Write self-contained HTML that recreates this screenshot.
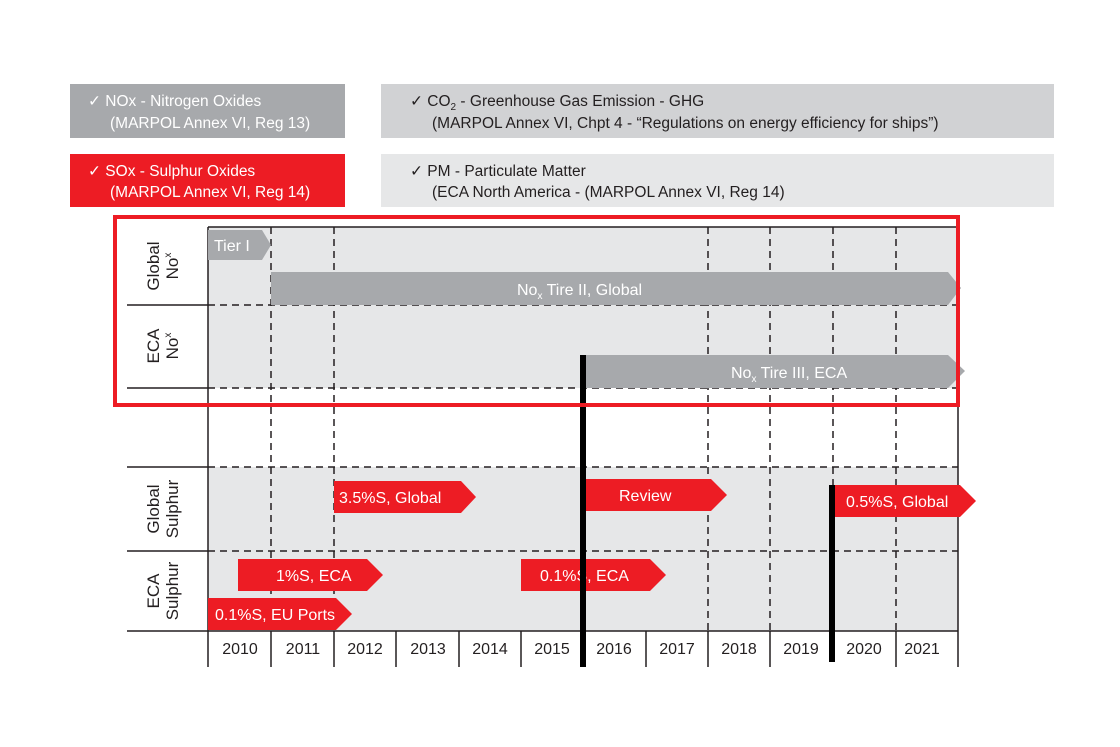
<!DOCTYPE html>
<html><head><meta charset="utf-8"><style>
html,body{margin:0;padding:0;background:#fff;}
svg{display:block;font-family:"Liberation Sans",sans-serif;}
</style></head><body>
<svg width="1120" height="747" viewBox="0 0 1120 747" xmlns="http://www.w3.org/2000/svg">
<rect width="1120" height="747" fill="#fff"/>
<rect x="70" y="84" width="275" height="54" fill="#a7a9ac"/>
<rect x="70" y="154" width="275" height="53" fill="#ed1c24"/>
<rect x="381" y="84" width="673" height="54" fill="#d1d2d4"/>
<rect x="381" y="154" width="673" height="53" fill="#e6e7e8"/>
<g font-size="15.5" fill="#fff">
<text x="88" y="106">✓ NOx - Nitrogen Oxides</text>
<text x="110" y="128">(MARPOL Annex VI, Reg 13)</text>
<text x="88" y="176">✓ SOx - Sulphur Oxides</text>
<text x="110" y="197">(MARPOL Annex VI, Reg 14)</text>
</g>
<g font-size="15.5" fill="#231f20">
<text x="410" y="106">✓ CO<tspan font-size="10" dy="4">2</tspan><tspan dy="-4"> - Greenhouse Gas Emission - GHG</tspan></text>
<text x="432" y="128">(MARPOL Annex VI, Chpt 4 - “Regulations on energy efficiency for ships”)</text>
<text x="410" y="176">✓ PM - Particulate Matter</text>
<text x="432" y="197">(ECA North America - (MARPOL Annex VI, Reg 14)</text>
</g>
<rect x="208" y="227" width="750" height="161" fill="#e6e7e8"/>
<rect x="208" y="467" width="750" height="164" fill="#e6e7e8"/>
<g stroke="#231f20" stroke-width="1.5" fill="none">
<line x1="208" y1="227" x2="958" y2="227"/>
<line x1="208" y1="227" x2="208" y2="667"/>
<line x1="958" y1="227" x2="958" y2="667"/>
<line x1="127" y1="631" x2="958" y2="631"/>
<line x1="127" y1="305" x2="208" y2="305"/>
<line x1="127" y1="388" x2="208" y2="388"/>
<line x1="127" y1="467" x2="208" y2="467"/>
<line x1="127" y1="551" x2="208" y2="551"/>
</g>
<g stroke="#231f20" stroke-width="1.5" stroke-dasharray="7,5" fill="none">
<line x1="208" y1="305" x2="958" y2="305"/>
<line x1="208" y1="388" x2="958" y2="388"/>
<line x1="208" y1="467" x2="958" y2="467"/>
<line x1="208" y1="551" x2="958" y2="551"/>
<line x1="271" y1="227" x2="271" y2="631"/>
<line x1="334" y1="227" x2="334" y2="631"/>
<line x1="708" y1="227" x2="708" y2="631"/>
<line x1="770" y1="227" x2="770" y2="631"/>
<line x1="833" y1="227" x2="833" y2="485"/>
<line x1="896" y1="227" x2="896" y2="631"/>
</g>
<g stroke="#231f20" stroke-width="1.5">
<line x1="271" y1="631" x2="271" y2="667"/><line x1="334" y1="631" x2="334" y2="667"/>
<line x1="396" y1="631" x2="396" y2="667"/><line x1="459" y1="631" x2="459" y2="667"/>
<line x1="521" y1="631" x2="521" y2="667"/><line x1="646" y1="631" x2="646" y2="667"/>
<line x1="708" y1="631" x2="708" y2="667"/><line x1="770" y1="631" x2="770" y2="667"/>
<line x1="896" y1="631" x2="896" y2="667"/>
</g>
<g font-size="16" fill="#231f20" text-anchor="middle">
<text x="240" y="654">2010</text><text x="303" y="654">2011</text><text x="365" y="654">2012</text>
<text x="428" y="654">2013</text><text x="490" y="654">2014</text><text x="552" y="654">2015</text>
<text x="614" y="654">2016</text><text x="677" y="654">2017</text><text x="739" y="654">2018</text>
<text x="801" y="654">2019</text><text x="864" y="654">2020</text><text x="922" y="654">2021</text>
</g>
<g font-size="17" fill="#231f20" text-anchor="middle">
<text transform="translate(159,266) rotate(-90)">Global</text>
<text transform="translate(178,266) rotate(-90)">No<tspan font-size="10" dy="-7">x</tspan></text>
<text transform="translate(159,346) rotate(-90)">ECA</text>
<text transform="translate(178,346) rotate(-90)">No<tspan font-size="10" dy="-7">x</tspan></text>
<text transform="translate(159,509) rotate(-90)">Global</text>
<text transform="translate(178,509) rotate(-90)">Sulphur</text>
<text transform="translate(159,591) rotate(-90)">ECA</text>
<text transform="translate(178,591) rotate(-90)">Sulphur</text>
</g>
<polygon points="208,230 262,230 271,245 262,260 208,260" fill="#a7a9ac"/>
<polygon points="271,272 948,272 961,288 948,305 271,305" fill="#a7a9ac"/>
<polygon points="585,355 948,355 965,371 948,388 585,388" fill="#a7a9ac"/>
<g font-size="16" fill="#fff">
<text x="214" y="251">Tier I</text>
<text x="517" y="295">No<tspan font-size="10" dy="4">x</tspan><tspan dy="-4"> Tire II, Global</tspan></text>
<text x="731" y="378">No<tspan font-size="10" dy="4">x</tspan><tspan dy="-4"> Tire III, ECA</tspan></text>
</g>
<g fill="#ed1c24">
<polygon points="334,481 461,481 476,497 461,513 334,513"/>
<polygon points="585,479 711,479 727,495 711,511 585,511"/>
<polygon points="835,485 960,485 976,501 960,517 835,517"/>
<polygon points="238,559 367,559 383,575 367,591 238,591"/>
<polygon points="521,559 650,559 666,575 650,591 521,591"/>
<polygon points="208,598 336,598 352,614 336,630 208,630"/>
</g>
<g font-size="16" fill="#fff">
<text x="339" y="503">3.5%S, Global</text>
<text x="619" y="501">Review</text>
<text x="846" y="507">0.5%S, Global</text>
<text x="276" y="581">1%S, ECA</text>
<text x="540" y="581">0.1%S, ECA</text>
<text x="215" y="620">0.1%S, EU Ports</text>
</g>
<rect x="580" y="355" width="6" height="312" fill="#000"/>
<rect x="829" y="485" width="6" height="177" fill="#000"/>
<rect x="115" y="217" width="843" height="188" fill="none" stroke="#ed1c24" stroke-width="4"/>
</svg>
</body></html>
